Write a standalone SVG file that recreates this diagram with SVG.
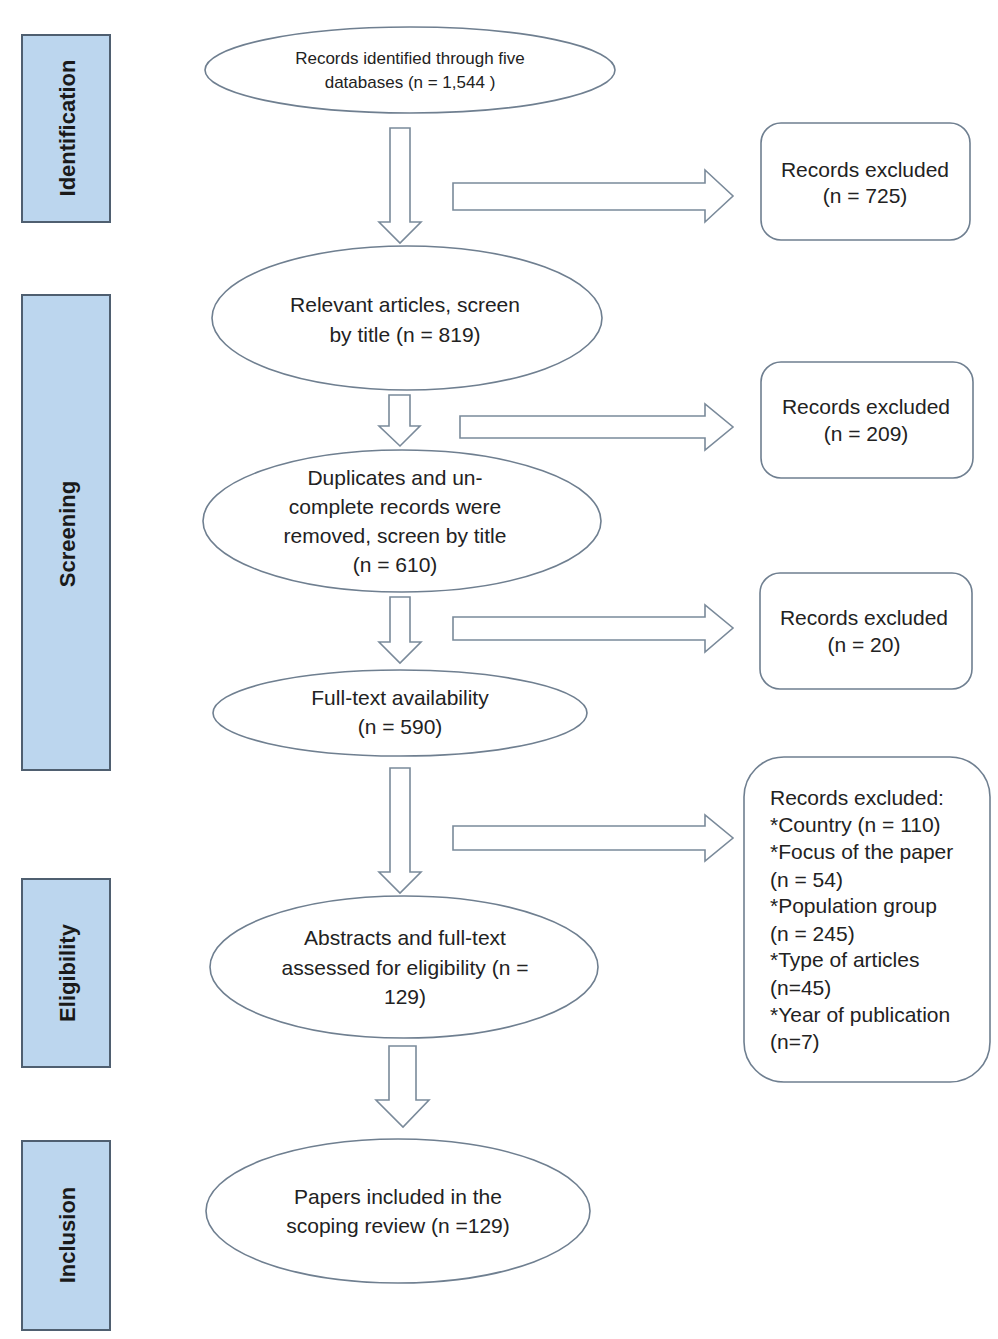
<svg xmlns="http://www.w3.org/2000/svg" width="998" height="1339" viewBox="0 0 998 1339">
<style>
.phase{fill:#bcd6ee;stroke:#4f5f70;stroke-width:2}
.plabel{font-family:"Liberation Sans",Arial,sans-serif;font-weight:bold;font-size:22px;fill:#1a1a1a;text-anchor:middle}
.node{fill:#ffffff;stroke:#6f7f90;stroke-width:1.6}
.t{font-family:"Liberation Sans",Arial,sans-serif;font-size:21px;fill:#222;text-anchor:middle}
.ts{font-family:"Liberation Sans",Arial,sans-serif;font-size:17px;fill:#222;text-anchor:middle}
.tl{font-family:"Liberation Sans",Arial,sans-serif;font-size:21px;fill:#222}
.arr{fill:#ffffff;stroke:#7a8a9a;stroke-width:1.6;stroke-linejoin:miter}
</style>
<rect width="998" height="1339" fill="#ffffff"/>
<g id="phase-identification">
<rect class="phase" x="22" y="35" width="88" height="187"/>
<text class="plabel" transform="translate(75,128) rotate(-90)">Identification</text>
</g>
<g id="phase-screening">
<rect class="phase" x="22" y="295" width="88" height="475"/>
<text class="plabel" transform="translate(75,534) rotate(-90)">Screening</text>
</g>
<g id="phase-eligibility">
<rect class="phase" x="22" y="879" width="88" height="188"/>
<text class="plabel" transform="translate(75,973) rotate(-90)">Eligibility</text>
</g>
<g id="phase-inclusion">
<rect class="phase" x="22" y="1141" width="88" height="189"/>
<text class="plabel" transform="translate(75,1235) rotate(-90)">Inclusion</text>
</g>
<g id="connectors">
<path class="arr" d="M390,128 L410,128 L410,222 L421,222 L400,243 L379,222 L390,222 Z"/>
<path class="arr" d="M389,395 L410,395 L410,426 L420,426 L400,446 L379,426 L389,426 Z"/>
<path class="arr" d="M390,597 L410,597 L410,642 L421,642 L400,663 L379,642 L390,642 Z"/>
<path class="arr" d="M390,768 L410,768 L410,872 L421,872 L400,893 L379,872 L390,872 Z"/>
<path class="arr" d="M389,1046 L416,1046 L416,1100 L429,1100 L403,1127 L376,1100 L389,1100 Z"/>
<path class="arr" d="M453,183 L705,183 L705,170 L733,196 L705,222 L705,210 L453,210 Z"/>
<path class="arr" d="M460,416 L705,416 L705,404 L733,427 L705,450 L705,438 L460,438 Z"/>
<path class="arr" d="M453,617 L705,617 L705,605 L733,628 L705,652 L705,640 L453,640 Z"/>
<path class="arr" d="M453,826 L705,826 L705,815 L733,838 L705,861 L705,850 L453,850 Z"/>
</g>
<g id="n-identified">
<ellipse class="node" cx="410" cy="70" rx="205" ry="43"/>
<text class="ts" x="410" y="64">Records identified through five</text>
<text class="ts" x="410" y="88">databases (n = 1,544 )</text>
</g>
<g id="n-relevant">
<ellipse class="node" cx="407" cy="318" rx="195" ry="72"/>
<text class="t" x="405" y="312">Relevant articles, screen</text>
<text class="t" x="405" y="342">by title (n = 819)</text>
</g>
<g id="n-duplicates">
<ellipse class="node" cx="402" cy="521" rx="199" ry="71"/>
<text class="t" x="395" y="485">Duplicates and un-</text>
<text class="t" x="395" y="514">complete records were</text>
<text class="t" x="395" y="543">removed, screen by title</text>
<text class="t" x="395" y="572">(n = 610)</text>
</g>
<g id="n-fulltext">
<ellipse class="node" cx="400" cy="713" rx="187" ry="43"/>
<text class="t" x="400" y="705">Full-text availability</text>
<text class="t" x="400" y="734">(n = 590)</text>
</g>
<g id="n-abstracts">
<ellipse class="node" cx="404" cy="967" rx="194" ry="71"/>
<text class="t" x="405" y="945">Abstracts and full-text</text>
<text class="t" x="405" y="975">assessed for eligibility (n =</text>
<text class="t" x="405" y="1004">129)</text>
</g>
<g id="n-included">
<ellipse class="node" cx="398" cy="1211" rx="192" ry="72"/>
<text class="t" x="398" y="1204">Papers included in the</text>
<text class="t" x="398" y="1233">scoping review (n =129)</text>
</g>
<g id="x-725">
<rect class="node" x="761" y="123" width="209" height="117" rx="20"/>
<text class="t" x="865" y="177">Records excluded</text>
<text class="t" x="865" y="203">(n = 725)</text>
</g>
<g id="x-209">
<rect class="node" x="761" y="362" width="212" height="116" rx="20"/>
<text class="t" x="866" y="414">Records excluded</text>
<text class="t" x="866" y="441">(n = 209)</text>
</g>
<g id="x-20">
<rect class="node" x="760" y="573" width="212" height="116" rx="20"/>
<text class="t" x="864" y="625">Records excluded</text>
<text class="t" x="864" y="652">(n = 20)</text>
</g>
<g id="x-eligibility">
<rect class="node" x="744" y="757" width="246" height="325" rx="40"/>
<text class="tl" x="770" y="805">Records excluded:</text>
<text class="tl" x="770" y="832">*Country (n = 110)</text>
<text class="tl" x="770" y="859">*Focus of the paper</text>
<text class="tl" x="770" y="887">(n = 54)</text>
<text class="tl" x="770" y="913">*Population group</text>
<text class="tl" x="770" y="941">(n = 245)</text>
<text class="tl" x="770" y="967">*Type of articles</text>
<text class="tl" x="770" y="995">(n=45)</text>
<text class="tl" x="770" y="1022">*Year of publication</text>
<text class="tl" x="770" y="1049">(n=7)</text>
</g>
</svg>
